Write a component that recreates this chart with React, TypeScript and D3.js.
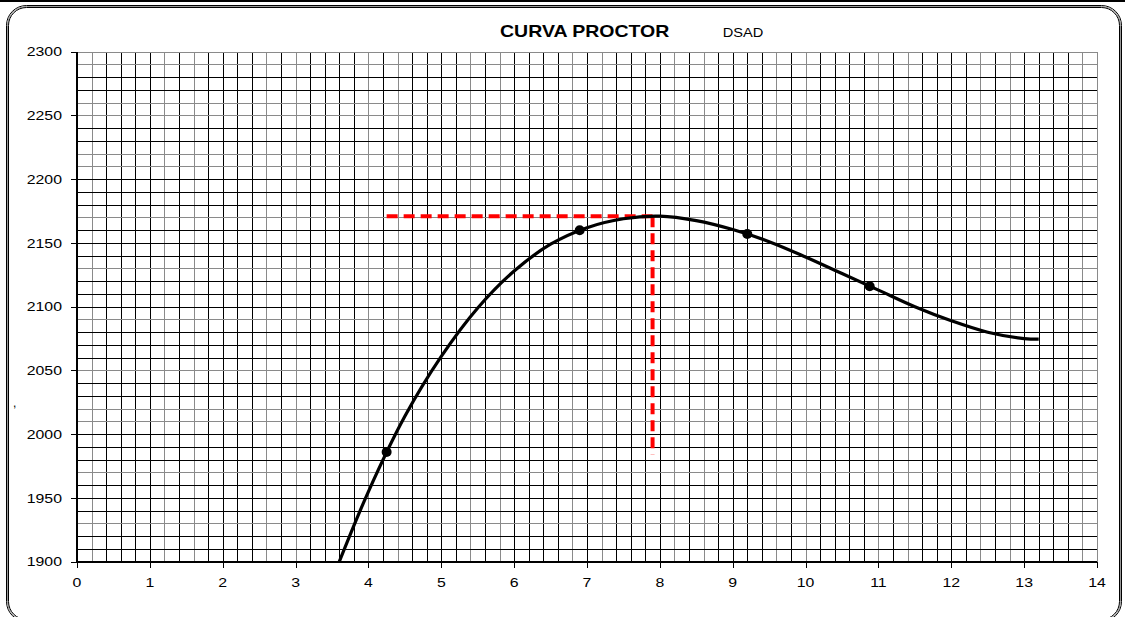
import React from "react";
import * as d3 from "d3";

// Measured points (moisture %, dry density)
const pointX = [4.25, 6.9, 9.2, 10.88];
const pointY = [1986, 2160, 2157, 2116];

// Fitted curve
const curveX = [3.6, 4.0, 4.5, 5.0, 5.5, 6.0, 6.5, 7.0, 7.5, 8.0, 8.5, 9.0, 9.5, 10.0, 10.5, 11.0, 11.5, 12.0, 12.5, 13.0, 13.2];
const curveY = [1900, 1955, 2014, 2061, 2099, 2128, 2149, 2162, 2169, 2171, 2167.5, 2160.5, 2151, 2139, 2126, 2113, 2100, 2089, 2080, 2075, 2074.5];

// Optimum (max density / optimum moisture)
const optX = [7.9];
const optY = [2171];
const optStartX = [4.25];
const optBottomY = [1984];

const xTicks = [0, 1, 2, 3, 4, 5, 6, 7, 8, 9, 10, 11, 12, 13, 14];
const yTicks = [1900, 1950, 2000, 2050, 2100, 2150, 2200, 2250, 2300];

const title = "CURVA PROCTOR";
const subtitle = "DSAD";

const W = 1125;
const H = 617;
const SX = 1.22;

export default function App() {
  const x = d3.scaleLinear().domain([0, 14]).range([77, 1097]);
  const y = d3.scaleLinear().domain([1900, 2300]).range([561.7, 51.7]);

  const xMinor = d3.range(0, 70 + 1).map((i) => i * 0.2);
  const yMinor = d3.range(0, 40 + 1).map((i) => 1900 + i * 10);

  const gridColor = (p: number) => {
    const f = p - Math.floor(p);
    return f > 0.3 && f < 0.7 ? "#8a8a8a" : "#000";
  };

  const line = d3
    .line<number>()
    .x((_, i) => x(curveX[i]))
    .y((d) => y(d))
    .curve(d3.curveCatmullRom.alpha(0.5));

  const fontFam = "Arial, 'Liberation Sans', sans-serif";

  return (
    <svg
      width={W}
      height={H}
      style={{ position: "absolute", left: 0, top: 0, background: "#fff" }}
    >
      <rect x={0} y={0} width={W} height={H} fill="#fff" />
      {/* top edge line */}
      <line x1={0} x2={W} y1={1} y2={1} stroke="#000" strokeWidth={2} />
      {/* rounded frame */}
      <rect x={6.5} y={5.5} width={1115} height={616} rx={20} fill="none" stroke="#000" strokeWidth={1} />
      <rect x={7.5} y={6.5} width={1113} height={614} rx={19} fill="none" stroke="#999" strokeWidth={1} />
      <rect x={8.5} y={7.5} width={1111} height={612} rx={18} fill="none" stroke="#000" strokeWidth={1} />

      {/* grid */}
      <g shapeRendering="crispEdges">
        {xMinor.map((v, i) => {
          const p = x(v);
          const px = Math.round(p) + 0.5;
          return (
            <line key={"gx" + i} x1={px} x2={px} y1={y(2300)} y2={y(1900)} stroke={i === 70 ? "#8a8a8a" : gridColor(p)} strokeWidth={1} />
          );
        })}
        {yMinor.map((v, i) => {
          const p = y(v);
          const py = Math.round(p) + 0.5;
          return (
            <line key={"gy" + i} x1={x(0)} x2={x(14)} y1={py} y2={py} stroke={i === 40 ? "#8a8a8a" : gridColor(p)} strokeWidth={1} />
          );
        })}
        {/* axes */}
        <line x1={x(0)} x2={x(0)} y1={y(2300)} y2={y(1900)} stroke="#000" strokeWidth={2} />
        <line x1={x(0)} x2={x(14)} y1={y(1900)} y2={y(1900)} stroke="#000" strokeWidth={2} />
        {yTicks.map((t) => (
          <line key={"yt" + t} x1={x(0) - 6} x2={x(0)} y1={Math.round(y(t))} y2={Math.round(y(t))} stroke="#000" strokeWidth={1} />
        ))}
        {xTicks.map((t) => (
          <line key={"xt" + t} x1={Math.round(x(t))} x2={Math.round(x(t))} y1={y(1900)} y2={y(1900) + 6} stroke="#000" strokeWidth={1} />
        ))}
      </g>

      {/* tick labels */}
      <g fontFamily={fontFam} fill="#000">
        {yTicks.map((t) => (
          <g key={"yl" + t} transform={`translate(62,${y(t) + 4.7}) scale(${SX},1)`}>
            <text x={0} y={0} fontSize={13} textAnchor="end">
              {t}
            </text>
          </g>
        ))}
        {xTicks.map((t) => (
          <g key={"xl" + t} transform={`translate(${x(t)},587) scale(${SX},1)`}>
            <text x={0} y={0} fontSize={13} textAnchor="middle">
              {t}
            </text>
          </g>
        ))}
        <text x={13} y={407} fontSize={12}>,</text>
      </g>

      {/* title */}
      <g transform={`translate(500,36.8) scale(${SX},1)`}>
        <text x={0} y={0} fontFamily={fontFam} fontWeight="bold" fontSize={16}>
          {title}
        </text>
      </g>
      <g transform={`translate(722.7,37.3) scale(1.17,1)`}>
        <text x={0} y={0} fontFamily={fontFam} fontSize={12.5}>
          {subtitle}
        </text>
      </g>

      {/* optimum dashed lines */}
      <g stroke="#ff0000" strokeWidth={4} strokeDasharray="11 6" fill="none">
        <line x1={x(optStartX[0])} x2={x(optX[0])} y1={y(optY[0])} y2={y(optY[0])} />
        <line x1={x(optX[0])} x2={x(optX[0])} y1={y(optY[0])} y2={y(optBottomY[0])} />
      </g>

      {/* curve */}
      <path d={line(curveY) || ""} fill="none" stroke="#000" strokeWidth={3.2} />

      {/* points */}
      {pointX.map((px, i) => (
        <circle key={"p" + i} cx={x(px)} cy={y(pointY[i])} r={5} fill="#000" />
      ))}
    </svg>
  );
}
